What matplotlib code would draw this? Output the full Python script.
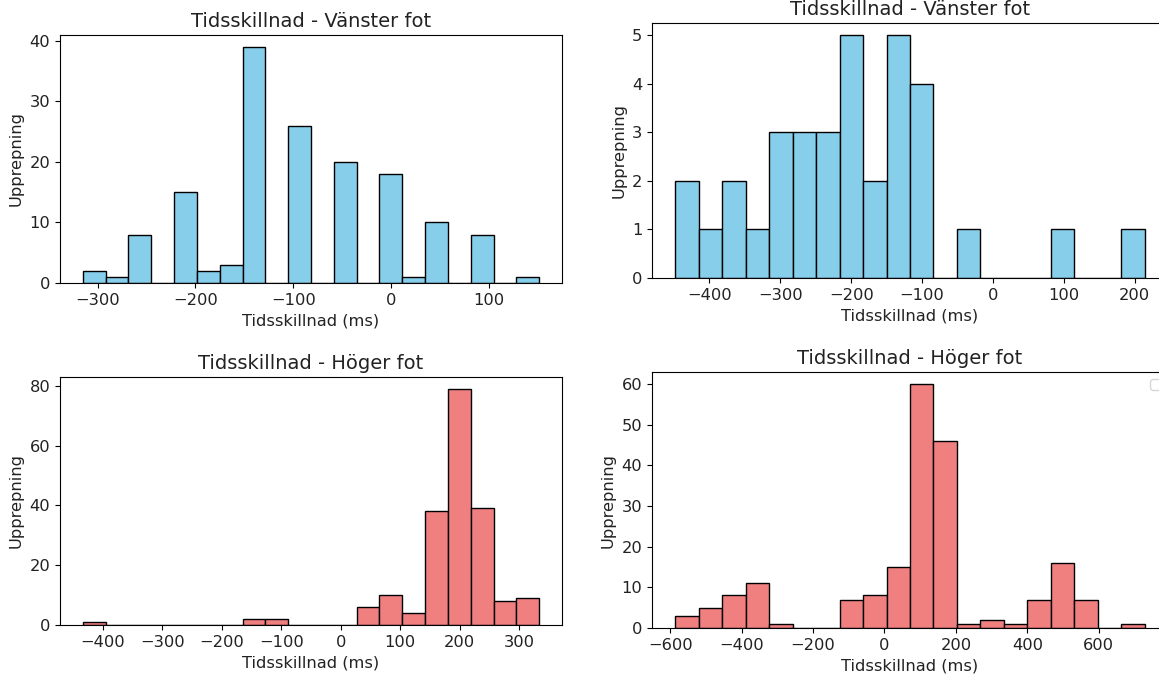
import numpy as np
import matplotlib
matplotlib.use("Agg")
from matplotlib import pyplot as plt

# histogram counts (20 bins each)
vanster_a = [2, 1, 8, 0, 15, 2, 3, 39, 0, 26, 0, 20, 0, 18, 1, 10, 0, 8, 0, 1]
vanster_a_range = (-315, 151)

vanster_b = [2, 1, 2, 1, 3, 3, 3, 5, 2, 5, 4, 0, 1, 0, 0, 0, 1, 0, 0, 1]
vanster_b_range = (-448, 214)

hoger_a = [1, 0, 0, 0, 0, 0, 0, 2, 2, 0, 0, 0, 6, 10, 4, 38, 79, 39, 8, 9]
hoger_a_range = (-434, 334)

hoger_b = [3, 5, 8, 11, 1, 0, 0, 7, 8, 15, 60, 46, 1, 2, 1, 7, 16, 7, 0, 1]
hoger_b_range = (-585, 728)

W, H = 1159, 677


def px_axes(fig, left, top, width, height):
    """ add axes using pixel coords measured from the top left corner """
    return fig.add_axes([left / W, (H - top - height) / H, width / W, height / H])


def draw_hist(ax, counts, rng, color, title):
    edges = np.linspace(rng[0], rng[1], len(counts) + 1)
    ax.hist(edges[:-1], bins=edges, weights=counts, color=color,
            edgecolor='black', linewidth=1.0)
    ax.set_title(title, fontsize=14, color='#222222')
    ax.set_xlabel('Tidsskillnad (ms)', fontsize=11.7, color='#222222')
    ax.set_ylabel('Upprepning', fontsize=11.7, color='#222222')
    ax.tick_params(labelsize=11.7, labelcolor='#222222')


fig = plt.figure(figsize=(W / 100, H / 100), dpi=100)

ax1 = px_axes(fig, 60, 35, 502, 248)
draw_hist(ax1, vanster_a, vanster_a_range, 'skyblue', 'Tidsskillnad - Vänster fot')

ax2 = px_axes(fig, 60, 377, 502, 248)
draw_hist(ax2, hoger_a, hoger_a_range, 'lightcoral', 'Tidsskillnad - Höger fot')

ax3 = px_axes(fig, 652, 23, 516, 255)
draw_hist(ax3, vanster_b, vanster_b_range, 'skyblue', 'Tidsskillnad - Vänster fot')

ax4 = px_axes(fig, 652, 372, 516, 256)
draw_hist(ax4, hoger_b, hoger_b_range, 'lightcoral', 'Tidsskillnad - Höger fot')
ax4.legend(handles=[], loc='upper right')

fig.savefig('out.png', dpi=100)
